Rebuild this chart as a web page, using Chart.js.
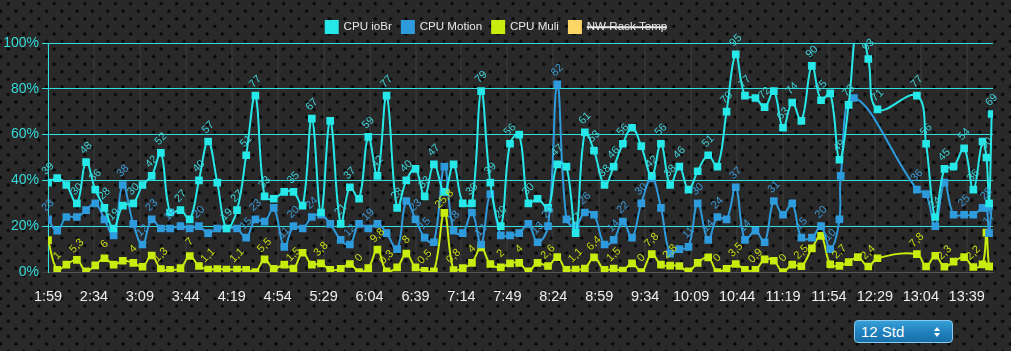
<!DOCTYPE html>
<html lang="de">
<head>
<meta charset="utf-8">
<title>CPU Last</title>
<script src="https://cdn.jsdelivr.net/npm/chart.js@4.4.1/dist/chart.umd.min.js"></script>
<style>
  html,body{margin:0;padding:0;}
  body{
    width:1011px;height:351px;overflow:hidden;position:relative;
    background-color:#292929;
    background-image:
      radial-gradient(circle, #060606 0, #060606 1.3px, transparent 1.9px),
      radial-gradient(circle, #060606 0, #060606 1.3px, transparent 1.9px);
    background-size:15.3px 15.13px;
    background-position:0.65px -3.9px, -7px 3.66px;
    font-family:Arial, "Liberation Sans", sans-serif;
  }
  #wrap{position:absolute;left:0;top:0;width:1011px;height:310px;}
  .range{
    position:absolute;left:854px;top:320px;width:97px;height:21px;
    border:1px solid #86cbef;border-radius:4px;box-sizing:content-box;
    background:linear-gradient(#379fd8,#1f80bc 55%,#1a70a8);
    color:#fff;font-size:15px;line-height:21px;
  }
  .range span{position:absolute;left:6px;top:0;}
  .range i{position:absolute;right:12px;width:0;height:0;border-left:3px solid transparent;border-right:3px solid transparent;}
  .range i.up{top:6px;border-bottom:4px solid #fff;}
  .range i.dn{top:12px;border-top:4px solid #fff;}
</style>
</head>
<body>
<div id="wrap"><canvas id="cpuChart"></canvas></div>
<div class="range"><span>12 Std</span><i class="up"></i><i class="dn"></i></div>
<script>
// Zeitachse (Messzeitpunkte) und Achsenbeschriftung
const tickLabels = ['1:59','2:34','3:09','3:44','4:19','4:54','5:29','6:04','6:39','7:14','7:49',
  '8:24','8:59','9:34','10:09','10:44','11:19','11:54','12:29','13:04','13:39'];

const times = [
  '1:59','2:06','2:13','2:21','2:28','2:35','2:42','2:49','2:56','3:04',
  '3:11','3:18','3:25','3:32','3:40','3:47','3:54','4:01','4:08','4:15',
  '4:23','4:30','4:37','4:44','4:51','4:59','5:06','5:13','5:20','5:27',
  '5:34','5:42','5:49','5:56','6:03','6:10','6:17','6:25','6:32','6:39',
  '6:46','6:53','7:01','7:08','7:15','7:22','7:29','7:36','7:44','7:51',
  '7:58','8:05','8:12','8:20','8:27','8:34','8:41','8:48','8:55','9:03',
  '9:10','9:17','9:24','9:31','9:39','9:46','9:53','10:00','10:07','10:14',
  '10:22','10:29','10:36','10:43','10:50','10:58','11:05','11:12','11:19','11:26',
  '11:33','11:41','11:48','11:55','12:02','12:03','12:09','12:13','12:16','12:24','12:31',
  '13:01','13:08','13:15','13:22','13:29','13:37','13:44','13:51','13:54','13:56','13:58'
];

const cpuIoBr = [
  39,41,38,30,48,36,28,19,29,30,
  38,42,52,26,27,23,40,57,39,19,
  27,51,77,33,32,35,35,29,67,26,
  66,21,37,32,59,42,77,28,40,45,
  33,47,35,47,30,30,79,39,20,56,
  60,30,32,28,47,46,17,61,53,38,
  46,56,63,55,42,56,38,46,36,44,
  51,46,70,95,77,76,72,79,63,74,
  66,90,75,78,49,null,73,null,110,93,71,
  77,56,24,45,46,54,36,57,50,30,69
];

const cpuMotion = [
  23,18,24,24,27,30,23,16,38,21,
  12,23,19,19,20,19,20,17,19,19,
  19,15,23,22,28,11,20,19,24,25,
  21,14,12,21,19,21,17,10,31,23,
  15,13,46,18,17,26,12,34,16,16,
  17,21,13,20,82,23,20,26,25,12,
  14,22,15,30,41,28,8,10,11,30,
  14,24,23,37,14,18,13,31,25,30,
  15,15,20,10,23,42,null,76,null,null,null,
  36,34,20,39,25,25,25,28,28,17,29
];

const cpuMuli = [
  13.9,1,3.2,5.3,0.3,2.9,6,3.2,4.9,4,
  2.3,7.2,1.3,0.9,1.7,7,2.6,1.1,1.3,1.1,
  1.1,1,0,5.5,1.4,3.2,1.5,8.4,3.2,3.8,
  0.9,1.4,3.5,0,1.7,9.8,0.3,2,8,2,
  0.5,0.3,25.8,0.8,1.7,4,10.7,3.5,2,3.8,
  4,0.3,4,2.6,6.5,0.9,1.1,1.5,6.4,0.9,
  1.5,0.6,3.8,0,7.8,3.2,2.8,2.6,0.3,4,
  6.4,0,1.4,3.5,0.9,0.9,5.5,4.9,0,3.2,
  2.5,10.3,15.8,3.3,2.7,null,4.3,null,6.5,2.4,6,
  7.8,2.4,7.1,2.3,4.5,6.5,2.2,3.3,17.2,2.4,2.4
];

// Rack-Temperatur ist ausgeblendet, keine Werte sichtbar
const nwRackTemp = [];

const toMin = t => { const [h, m] = t.split(':').map(Number); return h * 60 + m; };
const fmtTime = v => Math.floor(v / 60) + ':' + String(v % 60).padStart(2, '0');
const series = vals => times.map((t, i) => ({ x: toMin(t), y: vals[i] }));
const numFmt = new Intl.NumberFormat('de-DE', { maximumFractionDigits: 1 });
const FONT = 'Arial, "Liberation Sans", sans-serif';

// Werte-Labels, -45° gedreht, überlappende werden ausgeblendet (wie datalabels display:'auto')
const valueLabels = {
  id: 'valueLabels',
  afterDatasetsDraw(chart) {
    const { ctx, chartArea } = chart;
    const placed = [];
    const pad = 3, lh = 12, off = 14;
    const k = Math.SQRT1_2;
    ctx.save();
    ctx.font = '11px ' + FONT;
    ctx.textAlign = 'center';
    ctx.textBaseline = 'middle';
    for (let i = 0; i < times.length; i++) {
      chart.data.datasets.forEach((ds, di) => {
        if (!chart.isDatasetVisible(di)) return;
        const pt = ds.data[i];
        if (!pt || pt.y === null || pt.y === undefined) return;
        const el = chart.getDatasetMeta(di).data[i];
        if (!el || el.y < chartArea.top - 1) return;
        const text = numFmt.format(pt.y);
        const w = ctx.measureText(text).width;
        const cx = el.x, cy = el.y - off;
        const u = (cx - cy) * k, v = (cx + cy) * k;
        const hit = placed.some(p => Math.abs(p.u - u) < (p.w + w) / 2 + 2 * pad && Math.abs(p.v - v) < lh + 2 * pad);
        if (hit) return;
        placed.push({ u, v, w });
        ctx.save();
        ctx.translate(cx, cy);
        ctx.rotate(-Math.PI / 4);
        ctx.fillStyle = ds.labelColor;
        ctx.fillText(text, 0, 0);
        ctx.restore();
      });
    }
    ctx.restore();
  }
};

const line = (label, vals, color, labelColor) => ({
  label, data: series(vals),
  borderColor: color, backgroundColor: color,
  pointBackgroundColor: color, pointBorderColor: color,
  pointStyle: 'rect', pointRadius: 4, pointHoverRadius: 5,
  borderWidth: 2, tension: 0.4, spanGaps: true,
  labelColor
});

const gridCyan = '#2fdede';

new Chart(document.getElementById('cpuChart'), {
  type: 'line',
  data: {
    datasets: [
      line('CPU ioBr', cpuIoBr, '#27e8e8', '#3fd3d8'),
      line('CPU Motion', cpuMotion, '#2e9bdc', '#3a9ad6'),
      line('CPU Muli', cpuMuli, '#c8ec0e', '#c9dc10'),
      Object.assign(line('NW Rack Temp', nwRackTemp, '#fcd664', '#fcd664'), { hidden: true })
    ]
  },
  options: {
    responsive: true,
    maintainAspectRatio: false,
    animation: false,
    layout: { padding: { top: 11, right: 18, left: 0, bottom: 0 } },
    plugins: {
      legend: {
        position: 'top',
        labels: {
          color: '#e8e8e8', boxWidth: 12, boxHeight: 12, padding: 10,
          font: { size: 11.6, family: FONT }
        }
      },
      tooltip: { enabled: true }
    },
    scales: {
      x: {
        type: 'linear',
        min: toMin('1:59'),
        max: toMin('13:59'),
        afterBuildTicks: axis => { axis.ticks = tickLabels.map(t => ({ value: toMin(t) })); },
        afterFit: s => { s.height = 38; },
        ticks: {
          autoSkip: false, maxRotation: 0, color: '#ededed', padding: 16,
          font: { size: 14.5, family: FONT },
          callback: v => fmtTime(v)
        },
        grid: { color: 'rgba(255,255,255,0.05)', lineWidth: 2, drawTicks: false },
        border: { color: 'rgba(255,255,255,0.1)' }
      },
      y: {
        min: 0, max: 100,
        afterFit: s => { s.width = 48; },
        ticks: {
          stepSize: 20, color: '#35dada', padding: 3,
          font: { size: 14, family: FONT },
          callback: v => v + '%'
        },
        grid: {
          color: c => (c.tick && c.tick.value === 0) ? 'rgba(255,255,255,0.1)' : gridCyan,
          tickLength: 6, lineWidth: 1
        },
        border: { color: gridCyan }
      }
    }
  },
  plugins: [valueLabels]
});
</script>
</body>
</html>
